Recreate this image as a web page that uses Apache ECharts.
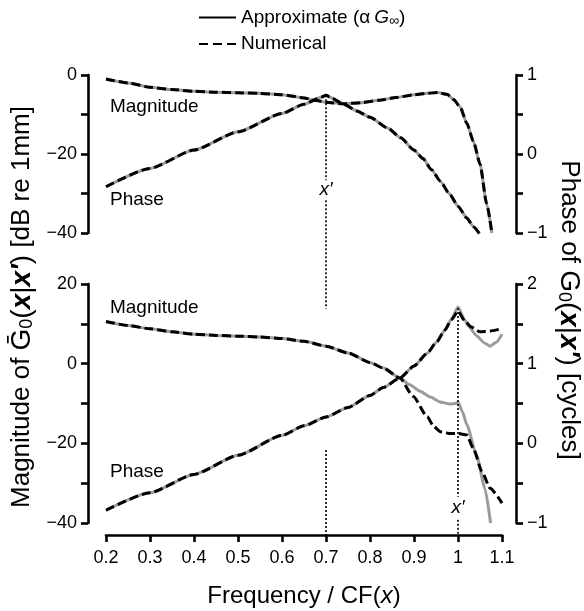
<!DOCTYPE html>
<html>
<head>
<meta charset="utf-8">
<script src="https://cdn.jsdelivr.net/npm/echarts@6/dist/echarts.min.js"></script>
<style>
  html, body { margin: 0; padding: 0; background: #fff; }
  #chart { width: 584px; height: 611px; }
</style>
</head>
<body>
<div id="chart"></div>
<script>
// ---- Upper panel: source at x' = 0.7 CF ----
const freqTopMag = [0.2, 0.25, 0.3, 0.35, 0.4, 0.45, 0.5, 0.55, 0.6, 0.65, 0.675, 0.7, 0.74, 0.78, 0.82, 0.86, 0.9, 0.93, 0.955, 0.975, 0.99, 1.005, 1.02, 1.035, 1.05, 1.065, 1.077];
const magTopNum  = [-1.0, -2.0, -3.1, -3.7, -4.1, -4.35, -4.5, -4.65, -5.0, -5.8, -6.4, -6.9, -7.3, -7.0, -6.4, -5.7, -5.0, -4.6, -4.45, -4.9, -6.2, -8.1, -12.2, -16.8, -22.5, -32.5, -40];
const magTopApx  = [-1.0, -2.0, -3.1, -3.7, -4.1, -4.35, -4.5, -4.65, -5.0, -5.8, -6.4, -6.9, -7.3, -7.0, -6.4, -5.7, -5.0, -4.6, -4.45, -4.9, -6.2, -8.1, -12.2, -16.8, -22.5, -32.5, -40];

const freqTopPh = [0.2, 0.3, 0.4, 0.5, 0.6, 0.65, 0.69, 0.7, 0.71, 0.74, 0.77, 0.8, 0.84, 0.87, 0.9, 0.92, 0.94, 0.96, 0.98, 1.0, 1.02, 1.035, 1.049];
const phTopNum  = [-0.414, -0.182, 0.05, 0.281, 0.513, 0.629, 0.722, 0.745, 0.715, 0.63, 0.545, 0.465, 0.33, 0.205, 0.05, -0.055, -0.2, -0.345, -0.5, -0.66, -0.81, -0.92, -1.01];
const phTopApx  = [-0.414, -0.182, 0.05, 0.281, 0.513, 0.629, 0.722, 0.745, 0.715, 0.63, 0.545, 0.465, 0.33, 0.205, 0.05, -0.055, -0.2, -0.345, -0.5, -0.66, -0.81, -0.92, -1.01];

// ---- Lower panel: source at x' = 1.0 CF ----
const freqBotMagNum = [0.2, 0.25, 0.3, 0.35, 0.4, 0.45, 0.5, 0.55, 0.6, 0.65, 0.7, 0.75, 0.8, 0.83, 0.868, 0.898, 0.93, 0.945, 0.96, 0.98, 1.0, 1.02, 1.035, 1.054, 1.073, 1.1];
const magBotNum     = [10.6, 9.6, 8.75, 8.0, 7.4, 7.1, 6.9, 6.7, 6.3, 5.6, 4.4, 2.7, 0.3, -1.1, -3.6, -8.2, -13.3, -15.8, -17.1, -17.5, -17.5, -17.9, -21.3, -27.0, -31.3, -35.0];

const freqBotMagApx = [0.2, 0.25, 0.3, 0.35, 0.4, 0.45, 0.5, 0.55, 0.6, 0.65, 0.7, 0.75, 0.8, 0.83, 0.868, 0.89, 0.914, 0.936, 0.959, 0.98, 0.995, 1.0, 1.01, 1.02, 1.042, 1.061, 1.074];
const magBotApx     = [10.6, 9.6, 8.75, 8.0, 7.4, 7.1, 6.9, 6.7, 6.3, 5.6, 4.4, 2.7, 0.3, -1.1, -3.6, -5.3, -6.9, -8.3, -9.6, -10.1, -10.0, -9.6, -12.0, -15.3, -22.9, -31.2, -40];

const freqBotPhNum = [0.2, 0.3, 0.4, 0.5, 0.6, 0.65, 0.7, 0.75, 0.8, 0.83, 0.868, 0.9, 0.93, 0.951, 0.97, 0.985, 1.0, 1.015, 1.03, 1.05, 1.073, 1.1];
const phBotNum     = [-0.84, -0.62, -0.39, -0.15, 0.1, 0.22, 0.33, 0.45, 0.6, 0.7, 0.82, 0.97, 1.13, 1.27, 1.42, 1.55, 1.66, 1.54, 1.46, 1.40, 1.41, 1.44];

const freqBotPhApx = [0.2, 0.3, 0.4, 0.5, 0.6, 0.65, 0.7, 0.75, 0.8, 0.83, 0.868, 0.9, 0.93, 0.951, 0.97, 0.985, 1.0, 1.015, 1.024, 1.042, 1.06, 1.073, 1.087, 1.1];
const phBotApx     = [-0.84, -0.62, -0.39, -0.15, 0.1, 0.22, 0.33, 0.45, 0.6, 0.7, 0.82, 0.97, 1.13, 1.27, 1.42, 1.56, 1.71, 1.55, 1.47, 1.35, 1.26, 1.22, 1.27, 1.37];

// Dotted markers at the source place x' : [frequency, from, to] on the phase axis
const srcTopSegments = [[0.7, 0.745, -0.333], [0.7, -0.587, -1.96]];
const srcBotSegments = [[0.7, -0.084, -1.163], [1.0, 1.70, -0.67], [1.0, -0.96, -1.163]];

// Text annotations: [frequency, dB]
const notesTop = [
  { text: 'Magnitude', x: 0.209, y: -8.1, align: 'left' },
  { text: 'Phase', x: 0.209, y: -31.6, align: 'left' },
  { text: 'x\u2032', x: 0.7, y: -29.0, align: 'center', italic: true }
];
const notesBot = [
  { text: 'Magnitude', x: 0.209, y: 14.0, align: 'left' },
  { text: 'Phase', x: 0.209, y: -27.2, align: 'left' },
  { text: 'x\u2032', x: 1.0, y: -36.2, align: 'center', italic: true }
];

const LEGEND_APPROX = 'Approximate';
const LEGEND_NUM = 'Numerical';

const FONT = '"Liberation Sans", Arial, Helvetica, sans-serif';
const GRAY = '#9b9b9b';
const minusSign = v => String(v).replace('-', '\u2212');

function yAxisCfg(gridIndex, position, min, max, labelStep, offset) {
  return {
    type: 'value', gridIndex, position, min, max,
    interval: labelStep / 2, offset,
    splitLine: { show: false },
    axisLine: { show: true, onZero: false, lineStyle: { color: '#000', width: 2.6 } },
    axisTick: { show: true, inside: false, length: 7, lineStyle: { color: '#000', width: 2.6 } },
    axisLabel: {
      color: '#000', fontSize: 18, fontFamily: FONT, margin: 11,
      formatter: v => {
        const k = v / labelStep;
        return Math.abs(k - Math.round(k)) < 1e-6 ? minusSign(Math.round(v * 100) / 100) : '';
      }
    }
  };
}

function curve(xi, yi, xs, ys, dashed) {
  return {
    type: 'line', xAxisIndex: xi, yAxisIndex: yi,
    data: xs.map((x, i) => [x, ys[i]]),
    symbol: 'none', smooth: 0.2, smoothMonotone: 'x', clip: false, silent: true,
    lineStyle: dashed
      ? { color: '#000', width: 3, type: [9, 4] }
      : { color: GRAY, width: 3, type: 'solid' },
    z: dashed ? 4 : 3
  };
}

function segmentSeries(xi, yi, segs) {
  return {
    type: 'custom', xAxisIndex: xi, yAxisIndex: yi, silent: true, z: 5,
    data: segs,
    renderItem: (params, api) => {
      const p0 = api.coord([api.value(0), api.value(1)]);
      const p1 = api.coord([api.value(0), api.value(2)]);
      return {
        type: 'line',
        shape: { x1: p0[0], y1: p0[1], x2: p1[0], y2: p1[1] },
        style: { stroke: '#000', lineWidth: 1.6, lineDash: [2, 2] }
      };
    }
  };
}

function noteSeries(xi, yi, notes) {
  return {
    type: 'custom', xAxisIndex: xi, yAxisIndex: yi, silent: true, z: 6,
    data: notes.map(n => [n.x, n.y]),
    renderItem: (params, api) => {
      const n = notes[params.dataIndex];
      const p = api.coord([api.value(0), api.value(1)]);
      return {
        type: 'text', x: p[0], y: p[1],
        style: {
          text: n.text, fill: '#000', fontSize: 19, fontFamily: FONT,
          fontStyle: n.italic ? 'italic' : 'normal',
          align: n.align, verticalAlign: 'middle'
        }
      };
    }
  };
}

function legendSeries(name, type) {
  return {
    type: 'line', name, xAxisIndex: 1, yAxisIndex: 2, data: [],
    symbol: 'none', silent: true,
    itemStyle: { color: '#000' },
    lineStyle: { color: '#000', width: 3, type }
  };
}

const titleRich = {
  g: { fontSize: 28, fontFamily: FONT },
  sub: { fontSize: 18, fontFamily: FONT, padding: [11, 0, 0, 0] },
  m: { fontSize: 28, fontFamily: FONT },
  i: { fontSize: 28, fontFamily: FONT, fontStyle: 'italic', fontWeight: 'bold' }
};

const chart = echarts.init(document.getElementById('chart'), null, { renderer: 'canvas' });
chart.setOption({
  animation: false,
  backgroundColor: '#fff',
  textStyle: { fontFamily: FONT, color: '#000' },
  grid: [
    { left: 106, right: 82, top: 75, height: 158, outerBoundsMode: 'none' },
    { left: 106, right: 82, top: 284, height: 239, outerBoundsMode: 'none' }
  ],
  legend: {
    orient: 'vertical', left: 193, top: 3,
    itemWidth: 37, itemHeight: 14, itemGap: 6,
    selectedMode: false,
    itemStyle: { opacity: 0 },
    data: [LEGEND_APPROX, LEGEND_NUM],
    formatter: name => name === LEGEND_APPROX
      ? '{t|Approximate (\u03b1}{g|G}{s|\u221e}{t|)}'
      : '{t|Numerical}',
    textStyle: {
      fontSize: 19, fontFamily: FONT, color: '#000',
      rich: {
        t: { fontSize: 19, fontFamily: FONT, color: '#000' },
        g: { fontSize: 19, fontFamily: FONT, color: '#000', fontStyle: 'italic', padding: [0, 0, 0, 4] },
        s: { fontSize: 14, fontFamily: FONT, color: '#000', padding: [8, 0, 0, 0] }
      }
    }
  },
  xAxis: [
    { type: 'value', gridIndex: 0, min: 0.2, max: 1.1, show: false },
    {
      type: 'value', gridIndex: 1, min: 0.2, max: 1.1, interval: 0.1,
      position: 'bottom', offset: 12,
      splitLine: { show: false },
      axisLine: { onZero: false, lineStyle: { color: '#000', width: 2.6 } },
      axisTick: { inside: false, length: 7, lineStyle: { color: '#000', width: 2.6 } },
      axisLabel: {
        color: '#000', fontSize: 18, fontFamily: FONT, margin: 14,
        formatter: v => String(+v.toFixed(1))
      },
      name: 'Frequency / CF({i|x})', nameLocation: 'middle', nameGap: 49,
      nameTextStyle: {
        fontSize: 24, fontFamily: FONT, color: '#000',
        rich: { i: { fontSize: 24, fontFamily: FONT, fontStyle: 'italic', color: '#000' } }
      }
    }
  ],
  yAxis: [
    yAxisCfg(0, 'left', -40, 0, 20, 18),
    yAxisCfg(0, 'right', -1, 1, 1, 14),
    yAxisCfg(1, 'left', -40, 20, 20, 18),
    yAxisCfg(1, 'right', -1, 2, 1, 14)
  ],
  graphic: [
    {
      type: 'text', x: 22, y: 307, rotation: Math.PI / 2,
      style: {
        text: 'Magnitude of {g|\u1e20}{sub|0}{m|(}{i|x}{m||}{i|x\u2032}{m|)} [dB re 1mm]',
        fill: '#000', fontSize: 26, fontFamily: FONT,
        align: 'center', verticalAlign: 'middle', rich: titleRich
      }
    },
    {
      type: 'text', x: 569, y: 310, rotation: -Math.PI / 2,
      style: {
        text: 'Phase of {g|G}{sub|0}{m|(}{i|x}{m||}{i|x\u2032}{m|)} [cycles]',
        fill: '#000', fontSize: 26, fontFamily: FONT,
        align: 'center', verticalAlign: 'middle', rich: titleRich
      }
    }
  ],
  series: [
    legendSeries(LEGEND_APPROX, 'solid'),
    legendSeries(LEGEND_NUM, [9, 5]),
    // approximate solutions (grey) beneath the numerical ones (dashed)
    curve(0, 0, freqTopMag, magTopApx, false),
    curve(0, 1, freqTopPh, phTopApx, false),
    curve(1, 2, freqBotMagApx, magBotApx, false),
    curve(1, 3, freqBotPhApx, phBotApx, false),
    curve(0, 0, freqTopMag, magTopNum, true),
    curve(0, 1, freqTopPh, phTopNum, true),
    curve(1, 2, freqBotMagNum, magBotNum, true),
    curve(1, 3, freqBotPhNum, phBotNum, true),
    segmentSeries(0, 1, srcTopSegments),
    segmentSeries(1, 3, srcBotSegments),
    noteSeries(0, 0, notesTop),
    noteSeries(1, 2, notesBot)
  ]
});
</script>
</body>
</html>
